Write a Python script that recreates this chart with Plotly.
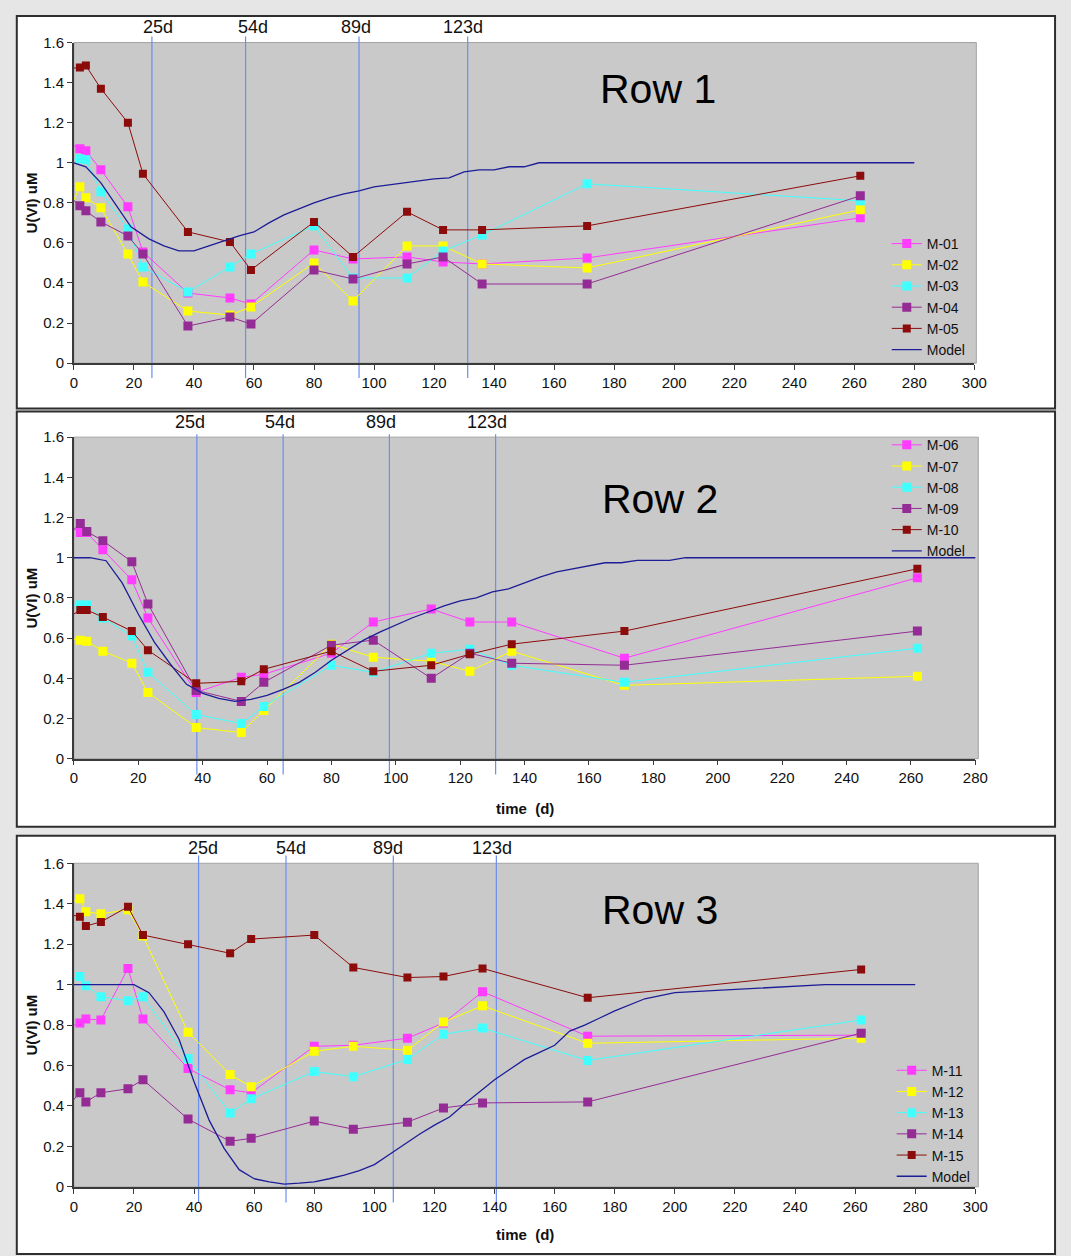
import plotly.graph_objects as go

W, H = 1071, 1256

# ---------------- data ----------------
days = [2, 4, 9, 18, 23, 38, 52, 59, 80, 93, 111, 123, 136, 171, 262]
lead_day = -2

row1_names = ["M-01", "M-02", "M-03", "M-04", "M-05"]
row1_lead = [1.10, 0.75, 1.01, 0.84, 1.47]
m01 = [1.07, 1.06, 0.965, 0.78, 0.555, 0.35, 0.325, 0.295, 0.565, 0.52, 0.53, 0.505, 0.495, 0.525, 0.725]
m02 = [0.88, 0.825, 0.775, 0.545, 0.405, 0.26, 0.24, 0.28, 0.50, 0.31, 0.585, 0.585, 0.495, 0.475, 0.765]
m03 = [1.02, 1.015, 0.855, 0.67, 0.48, 0.355, 0.48, 0.545, 0.685, 0.425, 0.425, 0.56, 0.64, 0.895, 0.81]
m04 = [0.785, 0.76, 0.705, 0.635, 0.545, 0.185, 0.23, 0.195, 0.465, 0.42, 0.495, 0.53, 0.395, 0.395, 0.835]
m05 = [1.475, 1.485, 1.37, 1.20, 0.945, 0.655, 0.605, 0.465, 0.705, 0.53, 0.755, 0.665, 0.665, 0.685, 0.935]

row2_names = ["M-06", "M-07", "M-08", "M-09", "M-10"]
row2_lead = [1.16, 0.60, 0.765, 1.11, 0.70]
m06 = [1.125, 1.125, 1.04, 0.89, 0.70, 0.33, 0.405, 0.42, 0.525, 0.68, 0.745, 0.68, 0.68, 0.50, 0.90]
m07 = [0.59, 0.585, 0.535, 0.475, 0.33, 0.155, 0.13, 0.24, 0.57, 0.505, 0.485, 0.435, 0.535, 0.365, 0.41]
m08 = [0.765, 0.765, 0.70, 0.61, 0.43, 0.22, 0.175, 0.26, 0.465, 0.43, 0.525, 0.545, 0.465, 0.38, 0.55]
m09 = [1.17, 1.13, 1.085, 0.98, 0.77, 0.34, 0.285, 0.38, 0.565, 0.59, 0.40, 0.525, 0.475, 0.465, 0.635]
m10 = [0.74, 0.74, 0.705, 0.635, 0.54, 0.375, 0.385, 0.445, 0.535, 0.435, 0.465, 0.52, 0.57, 0.635, 0.945]

row3_names = ["M-11", "M-12", "M-13", "M-14", "M-15"]
row3_lead = [0.79, 1.40, 1.02, 0.40, 1.35]
m11 = [0.81, 0.83, 0.825, 1.08, 0.83, 0.585, 0.48, 0.465, 0.695, 0.70, 0.735, 0.81, 0.965, 0.745, 0.75]
m12 = [1.425, 1.36, 1.35, 1.37, 1.24, 0.765, 0.555, 0.495, 0.67, 0.695, 0.675, 0.815, 0.895, 0.71, 0.735]
m13 = [1.04, 0.995, 0.94, 0.92, 0.94, 0.635, 0.365, 0.435, 0.57, 0.545, 0.63, 0.755, 0.785, 0.625, 0.825]
m14 = [0.465, 0.42, 0.465, 0.485, 0.53, 0.335, 0.225, 0.24, 0.325, 0.285, 0.32, 0.39, 0.415, 0.42, 0.76]
m15 = [1.335, 1.29, 1.31, 1.385, 1.245, 1.20, 1.155, 1.225, 1.245, 1.085, 1.035, 1.04, 1.08, 0.935, 1.075]

model1_days = [0, 4, 9, 14, 19, 25, 30, 35, 40, 45, 50, 55, 60, 65, 70, 75, 80, 85, 90, 95, 100,
               105, 110, 115, 120, 125, 130, 135, 140, 145, 150, 155, 280]
model1_vals = [1.0, 0.98, 0.9, 0.79, 0.68, 0.62, 0.585, 0.56, 0.56, 0.585, 0.61, 0.635, 0.655, 0.7,
               0.74, 0.77, 0.8, 0.825, 0.845, 0.86, 0.88, 0.89, 0.9, 0.91, 0.92, 0.925, 0.955,
               0.965, 0.965, 0.98, 0.98, 1.0, 1.0]

model2_days = [0, 5, 10, 15, 20, 25, 30, 35, 40, 45, 50, 55, 60, 65, 70, 75, 80, 85, 90, 95, 100,
               105, 110, 115, 120, 125, 130, 135, 140, 145, 150, 155, 160, 165, 170, 175, 180,
               185, 190, 281]
model2_vals = [1.0, 1.0, 0.985, 0.875, 0.72, 0.58, 0.47, 0.37, 0.325, 0.3, 0.285, 0.295, 0.315,
               0.345, 0.38, 0.43, 0.49, 0.54, 0.59, 0.63, 0.665, 0.7, 0.73, 0.76, 0.785, 0.8, 0.83,
               0.845, 0.875, 0.905, 0.93, 0.945, 0.96, 0.975, 0.975, 0.987, 0.987, 0.987, 1.0, 1.0]

model3_days = [0, 20, 25, 30, 35, 40, 45, 50, 55, 60, 65, 70, 75, 80, 85, 90, 95, 100, 105, 110,
               115, 120, 125, 130, 135, 140, 145, 150, 155, 160, 165, 170, 175, 180, 190, 200,
               250, 280]
model3_vals = [1.0, 1.0, 0.96, 0.865, 0.73, 0.52, 0.33, 0.19, 0.085, 0.04, 0.025, 0.013, 0.018,
               0.025, 0.04, 0.058, 0.08, 0.11, 0.16, 0.21, 0.26, 0.305, 0.345, 0.41, 0.47, 0.53,
               0.58, 0.63, 0.665, 0.7, 0.77, 0.8, 0.835, 0.87, 0.93, 0.96, 1.0, 1.0]

event_labels = ["25d", "54d", "89d", "123d"]
row1_event_x = [26.0, 57.2, 95.0, 131.2]
row2_event_x = [38.2, 65.0, 98.0, 131.0]
row3_event_x = [41.5, 70.6, 106.3, 140.6]
row1_label_x = [27.9, 59.7, 94.1, 129.8]
row2_label_x = [36.0, 64.1, 95.3, 128.2]
row3_label_x = [42.9, 72.3, 104.7, 139.1]

y_ticks = [0, 0.2, 0.4, 0.6, 0.8, 1, 1.2, 1.4, 1.6]

# ---------------- style ----------------
FONT = "Liberation Sans, Arial, sans-serif"
series_colors = ["#ff3cff", "#ffff00", "#40ffff", "#952c95", "#8c0b0b"]
model_color = "#1d1d98"
event_color = "#6b8ef0"
gray_bg = "#c9c9c9"
outer_bg = "#e6e6e6"


def px_x(p):
    return p / W


def px_y(p):
    return 1 - p / H


panels = [
    dict(names=row1_names, series=[m01, m02, m03, m04, m05], lead=row1_lead,
         mdays=model1_days, mvals=model1_vals, ev=row1_event_x, lab=row1_label_x,
         xdom=(71, 986), ydom=(359, 34), xmax=300, frame=(13, 7, 1068, 405),
         gray_right=988, ev_span=(28, 374), lab_y=18, row_text="Row 1", row_pos=(665, 81),
         xtitle_y=None, legend=dict(x=897, y=222)),
    dict(names=row2_names, series=[m06, m07, m08, m09, m10], lead=row2_lead,
         mdays=model2_days, mvals=model2_vals, ev=row2_event_x, lab=row2_label_x,
         xdom=(71, 987), ydom=(760, 434), xmax=280, frame=(13, 408, 1068, 829),
         gray_right=990, ev_span=(431, 776), lab_y=419, row_text="Row 2", row_pos=(667, 497),
         xtitle_y=810, legend=dict(x=897, y=426)),
    dict(names=row3_names, series=[m11, m12, m13, m14, m15], lead=row3_lead,
         mdays=model3_days, mvals=model3_vals, ev=row3_event_x, lab=row3_label_x,
         xdom=(71, 987), ydom=(1194, 866), xmax=300, frame=(13, 838, 1068, 1262),
         gray_right=990, ev_span=(858, 1210), lab_y=851, row_text="Row 3", row_pos=(667, 913),
         xtitle_y=1242, legend=dict(x=902, y=1060)),
]

fig = go.Figure()
shapes = []
annotations = []
layout_axes = {}

for i, p in enumerate(panels, start=1):
    xa = "x" if i == 1 else f"x{i}"
    ya = "y" if i == 1 else f"y{i}"
    leg = "legend" if i == 1 else f"legend{i}"

    # leading segments (no markers, not in legend)
    for name, vals, lv, col in zip(p["names"], p["series"], p["lead"], series_colors):
        fig.add_trace(go.Scatter(x=[lead_day, days[0]], y=[lv, vals[0]], mode="lines",
                                 line=dict(color=col, width=1), showlegend=False,
                                 hoverinfo="skip", xaxis=xa, yaxis=ya))
    for k, (name, vals, col) in enumerate(zip(p["names"], p["series"], series_colors)):
        fig.add_trace(go.Scatter(x=days, y=vals, name=name, mode="lines+markers",
                                 line=dict(color=col, width=1),
                                 marker=dict(symbol="square", size=9 if k < 4 else 8, color=col,
                                             line=dict(width=0)),
                                 xaxis=xa, yaxis=ya, legend=leg))
    fig.add_trace(go.Scatter(x=p["mdays"], y=p["mvals"], name="Model", mode="lines",
                             line=dict(color=model_color, width=1.3),
                             xaxis=xa, yaxis=ya, legend=leg))

    # axes
    common = dict(showgrid=False, zeroline=False, showline=True, linecolor="#3a3a3a",
                  linewidth=1.5, ticks="outside", ticklen=5, tickcolor="#3a3a3a",
                  tickfont=dict(family=FONT, size=15, color="#111111"))
    layout_axes["xaxis" if i == 1 else f"xaxis{i}"] = dict(
        common, domain=[px_x(p["xdom"][0]), px_x(p["xdom"][1])], range=[0, p["xmax"]],
        tickmode="linear", tick0=0, dtick=20, anchor=ya)
    layout_axes["yaxis" if i == 1 else f"yaxis{i}"] = dict(
        common, domain=[px_y(p["ydom"][0]), px_y(p["ydom"][1])], range=[0, 1.6],
        tickmode="array", tickvals=y_ticks, anchor=xa)

    # legend
    layout_axes[leg] = dict(x=px_x(p["legend"]["x"]), y=px_y(p["legend"]["y"]),
                            xanchor="left", yanchor="top", bgcolor="rgba(0,0,0,0)",
                            borderwidth=0, font=dict(family=FONT, size=14, color="#111111"),
                            tracegroupgap=0, itemwidth=30)

    # panel frame (white with dark border)
    fx0, fy0, fx1, fy1 = p["frame"]
    shapes.append(dict(type="rect", xref="paper", yref="paper", layer="below",
                       x0=px_x(fx0), x1=px_x(fx1), y0=px_y(fy1), y1=px_y(fy0),
                       fillcolor="white", line=dict(color="#2e2e2e", width=2)))
    # gray plot area
    shapes.append(dict(type="rect", xref="paper", yref="paper", layer="below",
                       x0=px_x(p["xdom"][0]), x1=px_x(p["gray_right"]),
                       y0=px_y(p["ydom"][0]), y1=px_y(p["ydom"][1]),
                       fillcolor=gray_bg, line=dict(color="#a3a3a3", width=1)))
    # event lines
    for ex in p["ev"]:
        shapes.append(dict(type="line", xref=xa, yref="paper", layer="below",
                           x0=ex, x1=ex, y0=px_y(p["ev_span"][1]), y1=px_y(p["ev_span"][0]),
                           line=dict(color=event_color, width=1.2)))
    for lx, txt in zip(p["lab"], event_labels):
        annotations.append(dict(x=lx, xref=xa, y=px_y(p["lab_y"]), yref="paper",
                                text=txt, showarrow=False, xanchor="center", yanchor="middle",
                                font=dict(family=FONT, size=18, color="#111111")))
    # Row title
    annotations.append(dict(x=px_x(p["row_pos"][0]), y=px_y(p["row_pos"][1]), xref="paper",
                            yref="paper", text=p["row_text"], showarrow=False,
                            xanchor="center", yanchor="middle",
                            font=dict(family=FONT, size=41, color="#000000")))
    # y axis title
    annotations.append(dict(x=px_x(28), y=0.5, xref="paper", yref=f"{ya} domain",
                            text="<b>U(VI) uM</b>", textangle=-90, showarrow=False,
                            xanchor="center", yanchor="middle",
                            font=dict(family=FONT, size=15, color="#111111")))
    # x axis title
    if p["xtitle_y"] is not None:
        annotations.append(dict(x=0.5, xref=f"{xa} domain", y=px_y(p["xtitle_y"]), yref="paper",
                                text="<b>time  (d)</b>", showarrow=False,
                                xanchor="center", yanchor="middle",
                                font=dict(family=FONT, size=15, color="#111111")))

fig.update_layout(
    width=W, height=H, autosize=False,
    margin=dict(l=0, r=0, t=0, b=0),
    paper_bgcolor=outer_bg, plot_bgcolor="rgba(0,0,0,0)",
    font=dict(family=FONT),
    shapes=shapes, annotations=annotations,
    **layout_axes,
)

fig.write_html(
    "out.html",
    config={"displayModeBar": False, "responsive": False},
    post_script="document.body.style.margin='0';document.body.style.overflow='hidden';"
                "document.body.style.background='%s';" % outer_bg,
)
